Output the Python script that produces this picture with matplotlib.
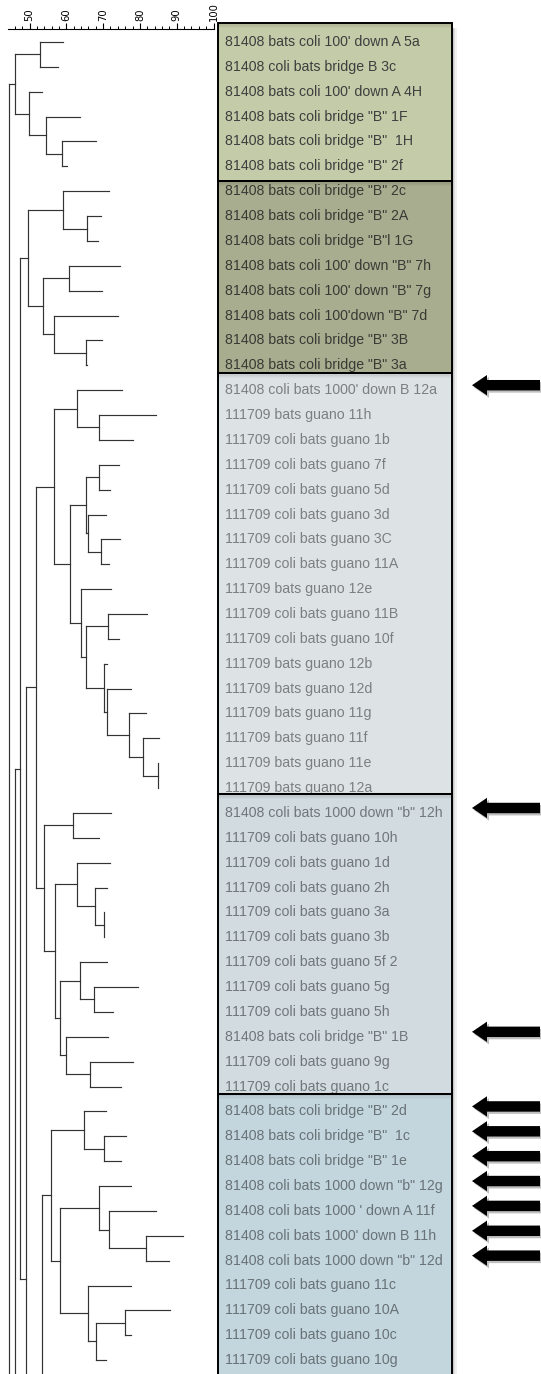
import matplotlib
matplotlib.use("Agg")
import matplotlib.pyplot as plt
import numpy as np
from matplotlib.patches import Rectangle, FancyArrow
from matplotlib.ticker import FixedLocator

# ---- data ---------------------------------------------------------------
labels = [
    "81408 bats coli 100' down A 5a",
    "81408 coli bats bridge B 3c",
    "81408 bats coli 100' down A 4H",
    '81408 bats coli bridge "B" 1F',
    '81408 bats coli bridge "B"  1H',
    '81408 bats coli bridge "B" 2f',
    '81408 bats coli bridge "B" 2c',
    '81408 bats coli bridge "B" 2A',
    '81408 bats coli bridge "B"l 1G',
    "81408 bats coli 100' down \"B\" 7h",
    "81408 bats coli 100' down \"B\" 7g",
    "81408 bats coli 100'down \"B\" 7d",
    '81408 bats coli bridge "B" 3B',
    '81408 bats coli bridge "B" 3a',
    "81408 coli bats 1000' down B 12a",
    "111709 bats guano 11h",
    "111709 coli bats guano 1b",
    "111709 coli bats guano 7f",
    "111709 coli bats guano 5d",
    "111709 coli bats guano 3d",
    "111709 coli bats guano 3C",
    "111709 coli bats guano 11A",
    "111709 bats guano 12e",
    "111709 coli bats guano 11B",
    "111709 coli bats guano 10f",
    "111709 bats guano 12b",
    "111709 bats guano 12d",
    "111709 bats guano 11g",
    "111709 bats guano 11f",
    "111709 bats guano 11e",
    "111709 bats guano 12a",
    '81408 coli bats 1000 down "b" 12h',
    "111709 coli bats guano 10h",
    "111709 coli bats guano 1d",
    "111709 coli bats guano 2h",
    "111709 coli bats guano 3a",
    "111709 coli bats guano 3b",
    "111709 coli bats guano 5f 2",
    "111709 coli bats guano 5g",
    "111709 coli bats guano 5h",
    '81408 bats coli bridge "B" 1B',
    "111709 coli bats guano 9g",
    "111709 coli bats guano 1c",
    '81408 bats coli bridge "B" 2d',
    '81408 bats coli bridge "B"  1c',
    '81408 bats coli bridge "B" 1e',
    '81408 coli bats 1000 down "b" 12g',
    "81408 coli bats 1000 ' down A 11f",
    "81408 coli bats 1000' down B 11h",
    '81408 coli bats 1000 down "b" 12d',
    "111709 coli bats guano 11c",
    "111709 coli bats guano 10A",
    "111709 coli bats guano 10c",
    "111709 coli bats guano 10g",
]

# similarity value where each leaf branch ends
leaf_end = [
    59.0, 57.7, 53.4, 63.7, 68.1, 60.2,
    71.6, 69.4, 68.6, 74.6, 69.8, 74.0, 69.6, 65.6,
    75.1, 84.4, 78.1, 74.3, 71.9, 70.7, 74.6, 71.6, 72.1, 81.9, 74.3,
    71.1, 77.6, 81.7, 85.1, 84.9, 84.9,
    72.1, 68.9, 71.9, 71.1, 70.2, 70.2, 71.1, 79.5, 72.7, 71.3, 78.1, 74.9,
    70.7, 76.2, 74.9, 77.6, 84.4, 91.7, 87.9, 77.6, 88.2, 77.6, 70.7,
]

# merges: (name, left, right, similarity)
# int = leaf row, str = earlier merge, float = branch running off the bottom
merges = [
    ("a1", 0, 1, 52.9),
    ("a2", 4, 5, 58.8),
    ("a3", 3, "a2", 54.5),
    ("a4", 2, "a3", 49.9),
    ("G1", "a1", "a4", 46.1),
    ("b1", 7, 8, 65.6),
    ("b2", 6, "b1", 59.0),
    ("b3", 9, 10, 60.7),
    ("b4", 12, 13, 65.4),
    ("b5", 11, "b4", 56.7),
    ("b6", "b3", "b5", 53.7),
    ("G2", "b2", "b6", 49.6),
    ("c1", 15, 16, 68.9),
    ("c2", 14, "c1", 62.9),
    ("c3", 17, 18, 68.9),
    ("c4", 20, 21, 69.4),
    ("c5", 19, "c4", 65.9),
    ("c6", "c3", "c5", 65.4),
    ("c7", 23, 24, 71.3),
    ("c8", 29, 30, 84.9),
    ("c9", 28, "c8", 80.8),
    ("c10", 27, "c9", 77.0),
    ("c11", 26, "c10", 71.1),
    ("c12", 25, "c11", 70.2),
    ("c13", "c7", "c12", 65.4),
    ("c14", 22, "c13", 64.0),
    ("c15", "c6", "c14", 61.1),
    ("G3", "c2", "c15", 56.7),
    ("d1", 31, 32, 61.8),
    ("d2", 35, 36, 70.2),
    ("d3", 34, "d2", 67.8),
    ("d4", 33, "d3", 62.9),
    ("d5", 38, 39, 67.5),
    ("d6", 37, "d5", 63.7),
    ("d7", 41, 42, 66.4),
    ("d8", 40, "d7", 59.9),
    ("d9", "d6", "d8", 58.4),
    ("d10", "d4", "d9", 56.9),
    ("G4", "d1", "d10", 53.9),
    ("G34", "G3", "G4", 51.8),
    ("e1", 44, 45, 70.2),
    ("e2", 43, "e1", 64.8),
    ("e3", 48, 49, 81.7),
    ("e4", 47, "e3", 71.6),
    ("e5", 46, "e4", 68.9),
    ("e6", 51, 52, 75.9),
    ("e7", "e6", 53, 68.1),
    ("e8", 50, "e7", 65.9),
    ("e9", "e5", "e8", 58.3),
    ("G5", "e2", "e9", 55.8),
    ("r1", "G5", 100.7, 53.4),
    ("r2", "G34", "r1", 49.0),
    ("r3", "G2", "r2", 47.4),
    ("r4", "r3", 110.0, 46.1),
    ("root", "G1", "r4", 44.4),
]

group_bounds = [-0.76, 5.59, 13.31, 30.24, 42.30, 54.5]
group_colors = ["#c4cba8", "#a8ad8f", "#dde2e5", "#d1dbe0", "#c3d5dd"]
group_text = ["#3e3e3e", "#383a34", "#7c7f81", "#70777b", "#687277"]
arrow_rows = [14, 31, 40, 43, 44, 45, 46, 47, 48, 49]
scale_ticks = [50, 60, 70, 80, 90, 100]

# ---- layout (pixels) ----------------------------------------------------
W, H = 541, 1374
ROW0, ROW_H = 42, 24.87
PX0, PX_PER = 29.5, 3.68          # pixel of 50 %, pixels per %
TREE_W, SCALE_Y = 216, 29

fig = plt.figure(figsize=(W / 100, H / 100), dpi=100)
fig.patch.set_facecolor("white")

def px2v(px):
    return 50 + (px - PX0) / PX_PER

def py2row(py):
    return (py - ROW0) / ROW_H

ax = fig.add_axes([0, 0, TREE_W / W, (H - SCALE_Y) / H])
ax.set_xlim(px2v(0), px2v(TREE_W))
ax.set_ylim(py2row(H), py2row(SCALE_Y))

lab = fig.add_axes([TREE_W / W, 0, (W - TREE_W) / W, 1])
lab.set_xlim(TREE_W, W)
lab.set_ylim(py2row(H), py2row(0))
lab.axis("off")

# ---- dendrogram ---------------------------------------------------------
nodes = {m[0]: m[1:] for m in merges}
line_kw = dict(color="#333333", lw=0.85, solid_capstyle="projecting")

def place(ref):
    if isinstance(ref, str):
        left, right, sim = nodes[ref]
        xl, yl = place(left)
        xr, yr = place(right)
        ax.plot([sim, sim], [yl, yr], **line_kw)
        ax.plot([sim, xl], [yl, yl], **line_kw)
        ax.plot([sim, xr], [yr, yr], **line_kw)
        return sim, (yl + yr) / 2
    if isinstance(ref, float):
        return np.nan, ref
    return leaf_end[ref], ref

place("root")

# scale bar on top
for s in ["left", "right", "bottom"]:
    ax.spines[s].set_visible(False)
ax.spines["top"].set_bounds(px2v(8), 100)
ax.spines["top"].set_linewidth(0.8)
ax.xaxis.tick_top()
ax.set_xticks(scale_ticks)
ax.set_xticklabels([str(t) for t in scale_ticks], rotation=90, fontsize=7.2,
                   family="DejaVu Sans")
ax.xaxis.set_minor_locator(FixedLocator(np.arange(46, 100, 2)))
ax.tick_params(axis="x", which="major", length=4, width=0.8, pad=1.5)
ax.tick_params(axis="x", which="minor", length=2, width=0.7)
ax.set_yticks([])

# ---- label boxes --------------------------------------------------------
BOX_X0, BOX_X1 = 218, 452
for g in range(len(group_colors)):
    top, bot = group_bounds[g], group_bounds[g + 1]
    # soft shadow on the right
    for k, a in enumerate([0.22, 0.13, 0.06]):
        lab.add_patch(Rectangle((BOX_X1 + k * 1.5, top + 0.2), 1.5, bot - top,
                                facecolor="black", alpha=a, lw=0, zorder=1))
    lab.add_patch(Rectangle((BOX_X0, top), BOX_X1 - BOX_X0, bot - top,
                            facecolor=group_colors[g], edgecolor="none", zorder=2))
    # shadow under the top edge
    for k, a in enumerate([0.14, 0.09, 0.05, 0.025]):
        lab.add_patch(Rectangle((BOX_X0, top + k * 0.05), BOX_X1 - BOX_X0, 0.05,
                                facecolor="black", alpha=a, lw=0, zorder=3))
    lab.add_patch(Rectangle((BOX_X0, top), BOX_X1 - BOX_X0, bot - top,
                            facecolor="none", edgecolor="black", lw=1.4, zorder=5))

for i, txt in enumerate(labels):
    g = np.searchsorted(group_bounds, i) - 1
    lab.text(225, i, txt, ha="left", va="center", fontsize=10.2,
             family="Liberation Sans", color=group_text[g], zorder=4)

# ---- arrows -------------------------------------------------------------
for r in arrow_rows:
    y = r - 0.2
    lab.add_patch(FancyArrow(541, y + 0.09, -67, 0, width=0.42, head_width=0.84,
                             head_length=15, length_includes_head=True,
                             color="black", alpha=0.25, lw=0, zorder=6))
    lab.add_patch(FancyArrow(540, y, -68, 0, width=0.42, head_width=0.82,
                             head_length=15, length_includes_head=True,
                             color="black", lw=0, zorder=7))

fig.savefig("out.png", dpi=100)
